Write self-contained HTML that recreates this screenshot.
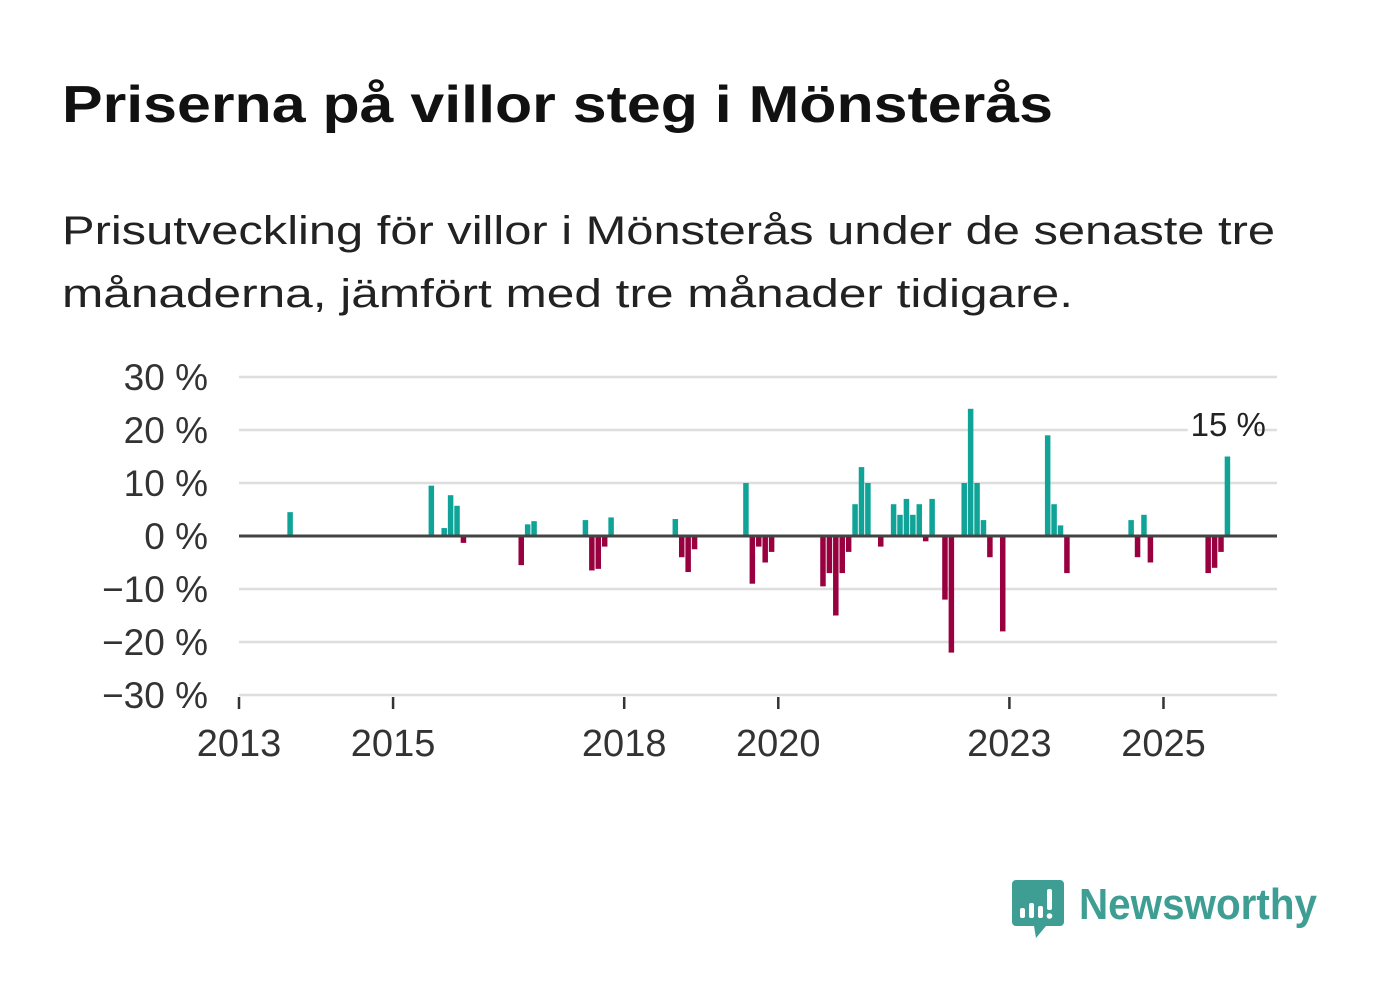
<!DOCTYPE html>
<html><head><meta charset="utf-8">
<style>
body{margin:0;background:#fff;}
svg{display:block;font-family:"Liberation Sans","DejaVu Sans",sans-serif;}
</style></head>
<body>
<svg id="chart" width="1382" height="999" viewBox="0 0 1382 999" xmlns="http://www.w3.org/2000/svg">
<rect width="1382" height="999" fill="#fff"/>
<text x="62" y="122" font-size="52" font-weight="bold" fill="#111" textLength="991" lengthAdjust="spacingAndGlyphs">Priserna på villor steg i Mönsterås</text>
<text x="62" y="244" font-size="40" fill="#222" textLength="1213" lengthAdjust="spacingAndGlyphs">Prisutveckling för villor i Mönsterås under de senaste tre</text>
<text x="62" y="307" font-size="40" fill="#222" textLength="1011" lengthAdjust="spacingAndGlyphs">månaderna, jämfört med tre månader tidigare.</text>
<g id="grid"></g>
<g id="bars"></g>
<g id="axes"></g>
<g>
  <path d="M1016 880 h44 a4 4 0 0 1 4 4 v38 a4 4 0 0 1 -4 4 h-14 l-10 12 l-2 -12 h-18 a4 4 0 0 1 -4 -4 v-38 a4 4 0 0 1 4 -4z" fill="#3f9e94"/>
  <rect x="1020" y="908" width="5" height="10" rx="2" fill="#fff"/>
  <rect x="1029" y="903" width="5" height="15" rx="2" fill="#fff"/>
  <rect x="1038" y="906" width="5" height="12" rx="2" fill="#fff"/>
  <rect x="1047" y="889" width="5" height="21" rx="2" fill="#fff"/>
  <circle cx="1049.5" cy="916" r="2.8" fill="#fff"/>
  <text x="1079" y="919" font-size="44" font-weight="bold" fill="#3f9e94" textLength="238" lengthAdjust="spacingAndGlyphs">Newsworthy</text>
</g>
</svg>
<script>
const dates = ["2013-09","2015-07","2015-09","2015-10","2015-11","2015-12","2016-09","2016-10","2016-11","2017-07","2017-08","2017-09","2017-10","2017-11","2018-09","2018-10","2018-11","2018-12","2019-08","2019-09","2019-10","2019-11","2019-12","2020-08","2020-09","2020-10","2020-11","2020-12","2021-01","2021-02","2021-03","2021-05","2021-07","2021-08","2021-09","2021-10","2021-11","2021-12","2022-01","2022-03","2022-04","2022-06","2022-07","2022-08","2022-09","2022-10","2022-12","2023-07","2023-08","2023-09","2023-10","2024-08","2024-09","2024-10","2024-11","2025-08","2025-09","2025-10","2025-11"];
const values = [4.5,9.5,1.5,7.7,5.7,-1.3,-5.5,2.2,2.8,3,-6.5,-6.2,-2,3.5,3.2,-4,-6.8,-2.5,10,-9,-2,-5,-3,-9.5,-7,-15,-7,-3,6,13,10,-2,6,4,7,4,6,-1,7,-12,-22,10,24,10,3,-4,-18,19,6,2,-7,3,-4,4,-5,-7,-6,-3,15];
const yTicks = [30,20,10,0,-10,-20,-30];
const yTickLabels = ["30 %","20 %","10 %","0 %","\u221210 %","\u221220 %","\u221230 %"];
const xTicks = [2013,2015,2018,2020,2023,2025];
const lastLabel = "15 %";

const NS="http://www.w3.org/2000/svg";
const X0=239, PXM=6.42, Y0=536, PXV=5.3, RIGHT=1277;
function xMonth(m){return X0+m*PXM;}
function xDate(s){const [y,mo]=s.split("-").map(Number);return xMonth((y-2013)*12+(mo-1));}
function yVal(v){return Y0-v*PXV;}
function mk(tag,attrs,parent){const e=document.createElementNS(NS,tag);for(const k in attrs)e.setAttribute(k,attrs[k]);parent.appendChild(e);return e;}
const grid=document.getElementById("grid"),bars=document.getElementById("bars"),axes=document.getElementById("axes");
yTicks.forEach((t,i)=>{
  if(t!==0){const l=mk("line",{x1:X0,x2:RIGHT,y1:yVal(t),y2:yVal(t),stroke:"#dedede","stroke-width":2.5},grid);
  
  }
  const tx=mk("text",{x:208,y:yVal(t)+13,"font-size":37,fill:"#333","text-anchor":"end"},axes);
  tx.textContent=yTickLabels[i];
  
  
});
dates.forEach((d,i)=>{
  const v=values[i],x=xDate(d);
  const r=mk("rect",{x:x-3,y:Math.min(yVal(v),Y0),width:5.5,height:Math.abs(v)*PXV,fill:v>=0?"#0fa497":"#990040"},bars);
  
  
});
const zl=mk("line",{x1:X0,x2:RIGHT,y1:Y0,y2:Y0,stroke:"#444","stroke-width":3},axes);


xTicks.forEach(yr=>{
  const x=xMonth((yr-2013)*12);
  const t=mk("line",{x1:x,x2:x,y1:697,y2:709,stroke:"#333","stroke-width":2.5},axes);
  
  
  const tx=mk("text",{x:x,y:756,"font-size":38,fill:"#333","text-anchor":"middle"},axes);
  tx.textContent=yr;
  
  
});
const lx=xDate(dates[dates.length-1]);
const lb=mk("rect",{x:lx-40,y:408,width:66,height:34,fill:"#fff"},axes);


const ll=mk("text",{x:lx-37,y:436,"font-size":33,fill:"#222"},axes);
ll.textContent=lastLabel;


</script>
</body></html>
